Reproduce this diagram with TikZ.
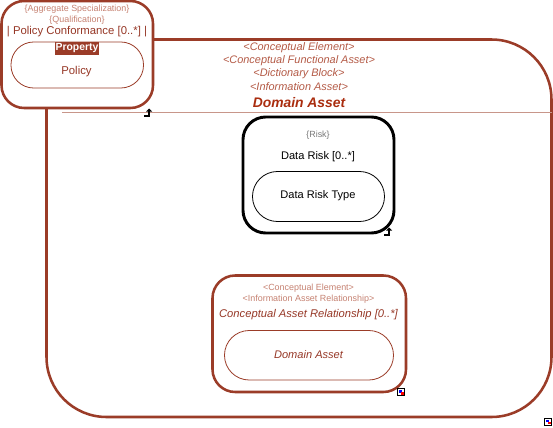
\documentclass[tikz,border=0pt]{standalone}
\usepackage{fontspec}
\setmainfont{Liberation Sans}
\definecolor{brn}{RGB}{155,60,40}
\definecolor{brnlight}{RGB}{200,150,138}
\definecolor{brntxt}{RGB}{150,55,38}
\definecolor{brnsoft}{RGB}{198,130,114}
\definecolor{brnital}{RGB}{180,90,70}
\definecolor{brnhead}{RGB}{170,45,15}
\definecolor{greytxt}{RGB}{120,120,120}
\tikzset{
  x=0.75pt,y=-0.75pt,
  container/.style={draw=brn,line width=1.9pt,fill=white},
  riskbox/.style={draw=black,line width=2.2pt,fill=white},
  inner/.style={line width=0.6pt,fill=white},
  lbl/.style={inner sep=0pt,font=\fontsize{8.5pt}{10pt}\selectfont,text=brntxt},
  small/.style={inner sep=0pt,font=\fontsize{6.7pt}{8pt}\selectfont,text=brnsoft},
  asset/.style={inner sep=0pt,font=\fontsize{8.2pt}{10pt}\selectfont\itshape,text=brnital},
}
\newcommand{\upicon}[2]{%
  \fill[black] (#1-4,#2+2) rectangle (#1+2,#2+3.6);
  \fill[black] (#1,#2-2) rectangle (#1+2,#2+3.6);
  \fill[black] (#1-2,#2-1.5) -- (#1+1,#2-4.5) -- (#1+4,#2-1.5) -- cycle;
}
\newcommand{\linkicon}[2]{%
  \draw[black,line width=0.75pt,fill=white] (#1,#2) rectangle (#1+7,#2+7);
  \fill[blue] (#1+1.8,#2+1.8) rectangle (#1+4,#2+4);
  \fill[red] (#1+3.8,#2+3.8) rectangle (#1+6,#2+6);
}
\begin{document}
\begin{tikzpicture}
\useasboundingbox (0,0) rectangle (553,428);
\fill[white] (0,0) rectangle (553,428);
% outer container
\draw[container,rounded corners=45pt] (46.5,39.5) rectangle (551.5,417);
\coordinate (sepL) at (62,112.5);
\coordinate (sepR) at (552,112.5);
\draw[draw=brnlight,line width=1pt] (sepL) -- (sepR);
\node[asset] (a1) at (299,48) {<Conceptual Element>};
\node[asset] (a2) at (299,61) {<Conceptual Functional Asset>};
\node[asset] (a3) at (299,74) {<Dictionary Block>};
\node[asset] (a4) at (299,87) {<Information Asset>};
\node[inner sep=0pt,text=brnhead,font=\fontsize{10.4pt}{12pt}\selectfont\bfseries\itshape] (a5) at (299,102.5) {Domain Asset};
% policy box
\draw[container,rounded corners=17pt] (1.5,1) rectangle (153,108);
\draw[inner,draw=brn,rounded corners=17pt] (11,42) rectangle (143.5,88);
\node[small] (p1) at (77,9.5) {\{Aggregate Specialization\}};
\node[small] (p2) at (77,20) {\{Qualification\}};
\node[lbl] (p3) at (77,32) {| Policy Conformance [0..*] |};
\node[fill=brn,text=white,inner xsep=0.5pt,inner ysep=1.1pt,font=\fontsize{7.8pt}{9pt}\selectfont\bfseries] (p4) at (77,48.5) {Property};
\node[lbl] (p5) at (76.5,72) {Policy};
% data risk
\draw[riskbox,rounded corners=17pt] (243,117) rectangle (394,233);
\draw[inner,draw=black,rounded corners=18.7pt] (252.5,171.5) rectangle (384.5,221.5);
\node[small,text=greytxt] (r1) at (318,135.5) {\{Risk\}};
\node[lbl,text=black,font=\fontsize{8.3pt}{10pt}\selectfont] (r2) at (318,157) {Data Risk [0..*]};
\node[lbl,text=black,font=\fontsize{8.3pt}{10pt}\selectfont] (r3) at (318,196) {Data Risk Type};
% relationship
\draw[container,rounded corners=17pt] (212.5,275.5) rectangle (406,392);
\draw[inner,draw=brn,rounded corners=18.5pt] (224.5,330.5) rectangle (393.5,380);
\node[small] (c1) at (308.5,288) {<Conceptual Element>};
\node[small] (c2) at (308.5,299) {<Information Asset Relationship>};
\node[lbl,font=\fontsize{8.4pt}{10pt}\selectfont\itshape] (c3) at (308.5,314.5) {Conceptual Asset Relationship [0..*]};
\node[lbl,font=\fontsize{8.3pt}{10pt}\selectfont\itshape] (c4) at (308.5,354.5) {Domain Asset};
% icons
\upicon{148}{113}
\upicon{388}{232}
\linkicon{397.5}{388.5}
\linkicon{544.5}{418}
\end{tikzpicture}
\end{document}
